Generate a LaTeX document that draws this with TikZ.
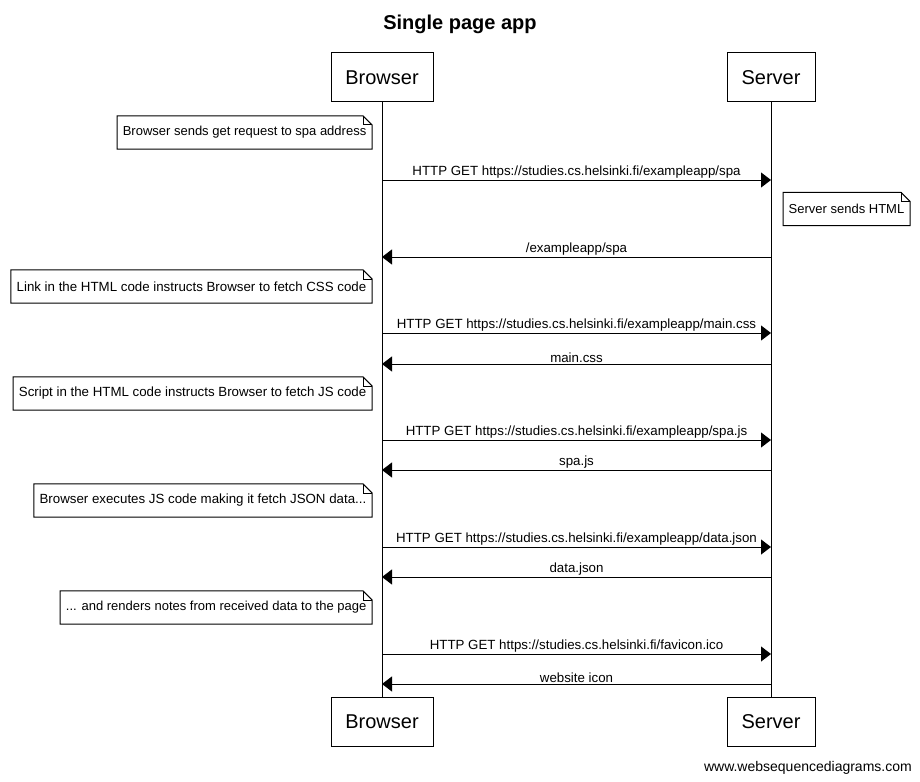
\documentclass[tikz,border=0pt]{standalone}
\usepackage{fontspec}
\setmainfont{Liberation Sans}
\usetikzlibrary{arrows.meta}
\tikzset{
  actor/.style={draw, line width=1pt, minimum height=49pt, font=\fontsize{20}{24}\selectfont, inner sep=0pt},
  notebox/.style={draw=none, minimum height=33pt, inner xsep=5.5pt, inner ysep=0pt, font=\fontsize{13.3}{15}\selectfont},
  smallnote/.style={notebox, font=\fontsize{13}{15}\selectfont},
  noteline/.style={draw, line width=1pt, line join=miter},
  msg/.style={line width=1pt, -{Triangle[length=10pt,width=15pt]}},
  lbl/.style={font=\fontsize{13.3}{15}\selectfont, inner sep=0pt, above=1pt},
  life/.style={line width=1pt}
}
\newcommand\dogear[1]{%
  \draw[noteline] (#1.south west) -- (#1.south east) -- ([yshift=-9pt]#1.north east)
     -- ([xshift=-9pt]#1.north east) -- (#1.north west) -- cycle;
  \draw[line width=0.6pt] ([xshift=-9pt]#1.north east) |- ([yshift=-9pt]#1.north east);}
\begin{document}
\begin{tikzpicture}[x=1pt,y=-1pt]
\useasboundingbox (0,0) rectangle (920,781);
\node[font=\bfseries\fontsize{20}{24}\selectfont] (title) at (460,24) {Single page app};
\node[actor, minimum width=102pt] (b1) at (382,77.5) {Browser};
\node[actor, minimum width=88pt] (s1) at (771,77.5) {Server};
\node[actor, minimum width=102pt] (b2) at (382,721.5) {Browser};
\node[actor, minimum width=88pt] (s2) at (771,721.5) {Server};
\draw[life] (b1) -- (b2);
\draw[life] (s1) -- (s2);
% notes
\node[smallnote, anchor=east] (n1) at (372,132.5) {Browser sends get request to spa address};
\dogear{n1}
\node[smallnote, anchor=west] (n2) at (783,209) {Server sends HTML};
\dogear{n2}
\node[notebox, anchor=east] (n3) at (372,286.5) {Link in the HTML code instructs Browser to fetch CSS code};
\dogear{n3}
\node[notebox, anchor=east] (n4) at (372,393.5) {Script in the HTML code instructs Browser to fetch JS code};
\dogear{n4}
\node[notebox, anchor=east] (n5) at (372,500.5) {Browser executes JS code making it fetch JSON data...};
\dogear{n5}
\node[smallnote, anchor=east] (n6) at (372,607.5) {... and renders notes from received data to the page};
\dogear{n6}
% message coordinates
\foreach \i/\y in {1/180,2/257,3/333,4/364,5/440,6/470,7/547,8/577,9/654,10/684}{
  \coordinate (b\i) at (382,\y);
  \coordinate (s\i) at (771,\y);
}
\draw[msg] (b1) -- node[lbl] {HTTP GET https://studies.cs.helsinki.fi/exampleapp/spa} (s1);
\draw[msg] (s2) -- node[lbl] {/exampleapp/spa} (b2);
\draw[msg] (b3) -- node[lbl] {HTTP GET https://studies.cs.helsinki.fi/exampleapp/main.css} (s3);
\draw[msg] (s4) -- node[lbl] {main.css} (b4);
\draw[msg] (b5) -- node[lbl] {HTTP GET https://studies.cs.helsinki.fi/exampleapp/spa.js} (s5);
\draw[msg] (s6) -- node[lbl] {spa.js} (b6);
\draw[msg] (b7) -- node[lbl] {HTTP GET https://studies.cs.helsinki.fi/exampleapp/data.json} (s7);
\draw[msg] (s8) -- node[lbl] {data.json} (b8);
\draw[msg] (b9) -- node[lbl] {HTTP GET https://studies.cs.helsinki.fi/favicon.ico} (s9);
\draw[msg] (s10) -- node[lbl] {website icon} (b10);
\node[anchor=east, inner sep=0pt, font=\fontsize{14}{16}\selectfont] (footer) at (912,768) {www.websequencediagrams.com};
\end{tikzpicture}
\end{document}
